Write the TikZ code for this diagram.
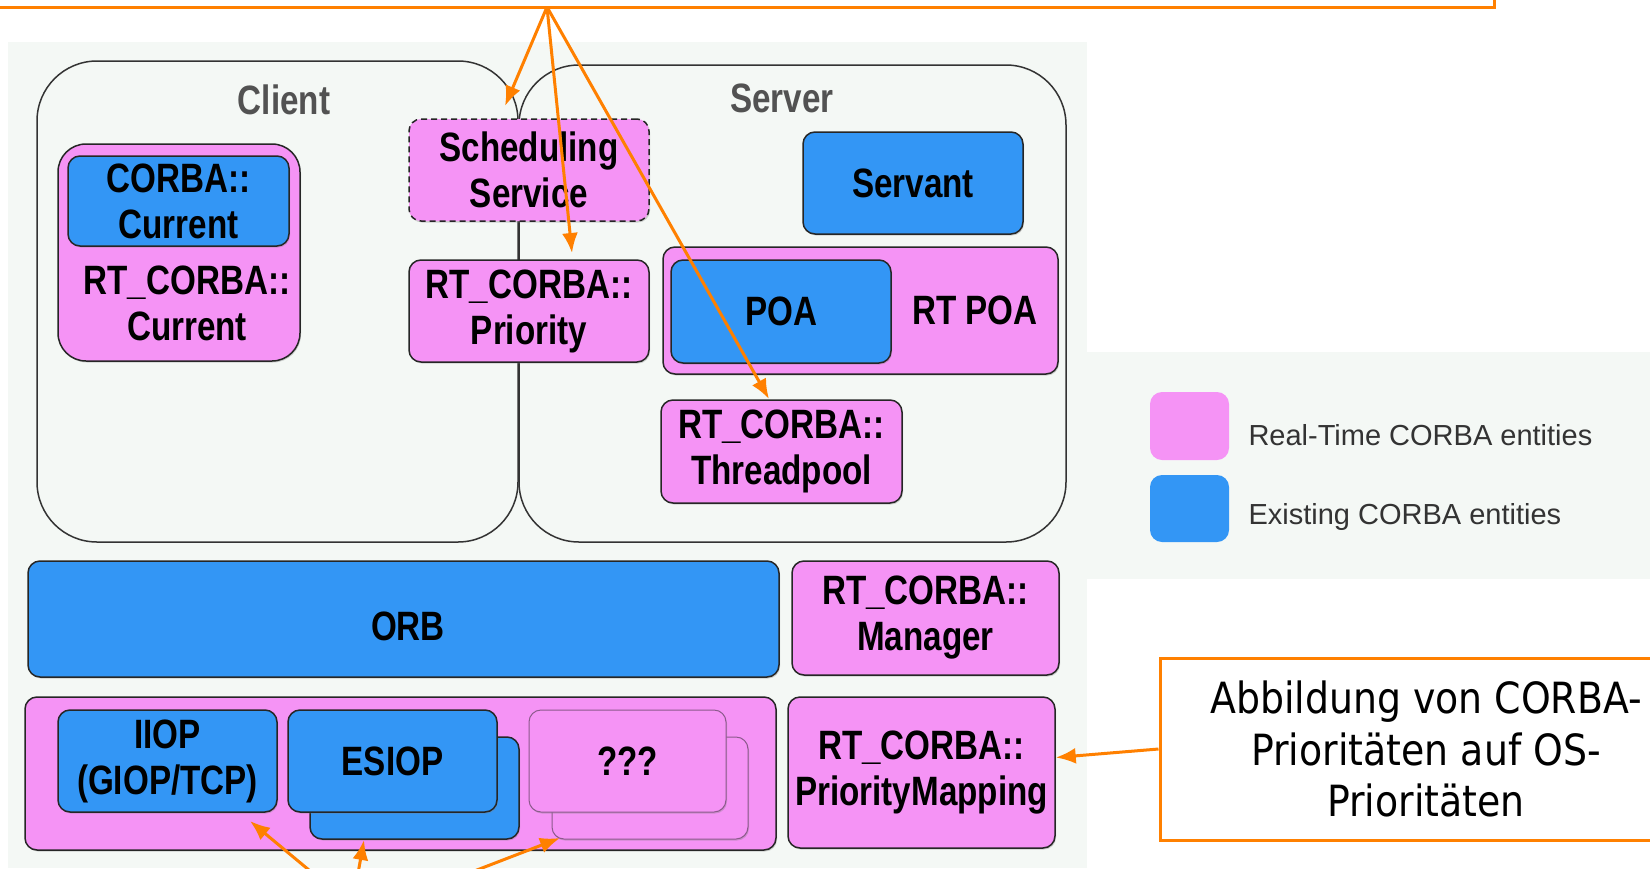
\documentclass[tikz,border=0pt]{standalone}
\usepackage{fontspec}
\setmainfont{Liberation Sans}
\newfontfamily\boxfont{Liberation Sans}[FakeStretch=0.81]
\newfontfamily\notefont{DejaVu Sans}[FakeStretch=0.88]
\usetikzlibrary{arrows.meta,shadows}

\definecolor{rtpink}{HTML}{F593F5}
\definecolor{exblue}{HTML}{3396F5}
\definecolor{bggray}{HTML}{F4F8F5}
\definecolor{noteorange}{HTML}{FF8000}
\definecolor{ghostline}{HTML}{8C5A8C}

\begin{document}
\begin{tikzpicture}[%
    ,x=1pt,y=-1pt
    ,>={Latex[length=20pt,width=16pt]}
    ,entity/.style = {%
        ,draw=black!85, line width=1.5pt
        ,rounded corners=12pt
        ,inner sep=0pt
        ,align=center
        ,font=\boxfont\bfseries\fontsize{41}{46}\selectfont
        ,drop shadow={shadow xshift=1pt,shadow yshift=-1.5pt,opacity=0.35}
        }
    ,rt/.style = {entity, fill=rtpink}
    ,ex/.style = {entity, fill=exblue}
    ,lbl/.style = {align=center, font=\boxfont\bfseries\fontsize{41}{46}\selectfont}
    ,side/.style = {draw=black!80, line width=1.5pt, rounded corners=60pt, inner sep=0pt}
    ,title/.style = {font=\boxfont\bfseries\fontsize{41}{46}\selectfont, text=black!68}
    ,legtext/.style = {anchor=west, font=\fontsize{29}{33}\selectfont, text=black!80}
    ,note/.style = {%
        ,draw=noteorange, line width=3pt
        ,fill=white, inner sep=0pt
        ,align=center
        ,font=\notefont\fontsize{43}{51.5}\selectfont
        }
    ,pointer/.style = {->, draw=noteorange, line width=3pt}
    ]
\useasboundingbox (0,0) rectangle (1650,868);
\fill[white] (0,0) rectangle (1650,868);

% backgrounds
\fill[bggray] (8,42) rectangle (1087,868);
\fill[bggray] (1087,352) rectangle (1650,579);

% client and server
\node (client) [side, minimum width=481pt, minimum height=481pt] at (277.5,301.5) {};
\node (server) [side, minimum width=547pt, minimum height=477pt] at (792.5,303.5) {};
\node (clientlbl) [title] at (284,100) {Client};
\node (serverlbl) [title] at (782,98) {Server};

\node (rtcur) [rt, rounded corners=28pt, minimum width=242pt, minimum height=217pt] at (179,252.5) {};
\node (corcur) [ex, minimum width=221pt, minimum height=90pt] at (178.5,201) {CORBA::\\Current};
\node (rtcurlbl) [lbl] at (187,303) {RT\_CORBA::\\Current};

\node (sched) [rt, dash pattern=on 6pt off 4pt, minimum width=240pt, minimum height=102pt] at (529,170) {Scheduling\\Service};
\node (prio) [rt, minimum width=240pt, minimum height=102pt] at (529,311) {RT\_CORBA::\\Priority};

\node (servant) [ex, minimum width=220pt, minimum height=102pt] at (913,183) {Servant};
\node (rtpoa) [rt, minimum width=395pt, minimum height=127pt] at (860.5,310.5) {};
\node (poa) [ex, minimum width=220pt, minimum height=103pt] at (781,311.5) {POA};
\node (rtpoalbl) [lbl] at (975,310) {RT POA};
\node (thread) [rt, minimum width=241pt, minimum height=103pt] at (781.5,451.5) {RT\_CORBA::\\Threadpool};

% ORB and transports
\node (orb) [ex, minimum width=751pt, minimum height=116pt] at (403.5,619) {};
\node (orblbl) [lbl] at (408,626) {ORB};
\node (mgr) [rt, minimum width=267pt, minimum height=114pt] at (925.5,618) {RT\_CORBA::\\Manager};
\node (transport) [rt, minimum width=751pt, minimum height=153pt] at (400.5,773.5) {};
\node (prmap) [rt, minimum width=267pt, minimum height=151pt] at (921.5,772.5) {RT\_CORBA::\\PriorityMapping};
\node (iiop) [ex, minimum width=219pt, minimum height=102pt] at (167.5,761) {IIOP\\(GIOP/TCP)};
\node (esiopb) [ex, minimum width=209pt, minimum height=102pt] at (414.5,788) {};
\node (esiop) [ex, minimum width=209pt, minimum height=102pt] at (392.5,761) {ESIOP};
\node (otherb) [rt, draw=ghostline, line width=1pt, minimum width=196pt, minimum height=102pt] at (650,788) {};
\node (other) [rt, draw=ghostline, line width=1pt, minimum width=197pt, minimum height=102pt] at (627.5,761) {???};

% legend
\node (legrt) [fill=rtpink, rounded corners=12pt, minimum width=79pt, minimum height=68pt] at (1189.5,426) {};
\node (legex) [fill=exblue, rounded corners=12pt, minimum width=79pt, minimum height=67pt] at (1189.5,508.5) {};
\node (legrtlbl) [legtext] at (1245,435) {Real-Time CORBA entities};
\node (legexlbl) [legtext] at (1245,517) {Existing CORBA entities};

% notes
\node (topnote) [note, minimum width=1514pt, minimum height=134pt] at (737,-60) {};
\node (mapnote) [note, minimum width=532pt, minimum height=182pt] at (1426,749) {Abbildung von CORBA-\\Prioritäten auf OS-\\Prioritäten};

\coordinate (src) at (547,7);
\coordinate (t1) at (505,106);
\coordinate (t2) at (572,253);
\coordinate (t3) at (769,399);
\foreach \t in {t1,t2,t3}
    \draw[pointer] (src) -- (\t);

\draw[pointer] (mapnote.west) -- ([yshift=15pt]prmap.east);

\coordinate (b1) at (333,890);
\coordinate (b2) at (355,890);
\coordinate (b3) at (425,890);
\coordinate (u1) at (250,821);
\coordinate (u2) at (364,840);
\coordinate (u3) at (560,838);
\foreach \s/\t in {b1/u1,b2/u2,b3/u3}
    \draw[pointer] (\s) -- (\t);
\end{tikzpicture}
\end{document}
